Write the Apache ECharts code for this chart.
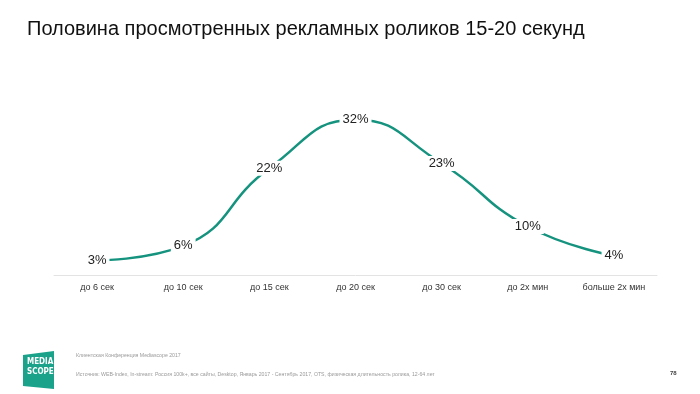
<!DOCTYPE html>
<html>
<head>
<meta charset="utf-8">
<script src="https://cdn.jsdelivr.net/npm/echarts@6/dist/echarts.min.js"></script>
<style>
html,body{margin:0;padding:0;background:#fff;}
#chart{width:700px;height:394px;}
</style>
</head>
<body>
<div id="chart"></div>
<script>
const categories = ['до 6 сек', 'до 10 сек', 'до 15 сек', 'до 20 сек', 'до 30 сек', 'до 2х мин', 'больше 2х мин'];
const values = [3, 6, 22, 32, 23, 10, 4];
const titleText = 'Половина просмотренных рекламных роликов 15-20 секунд';
const footer1 = 'Клиентская Конференция Mediascope 2017';
const footer2 = 'Источник: WEB-Index, In-stream: Россия 100k+, все сайты, Desktop, Январь 2017 - Сентябрь 2017, OTS, физическая длительность ролика, 12-64 лет';
const pageNum = '78';

const chart = echarts.init(document.getElementById('chart'), null, {renderer: 'canvas'});
const font = '"Liberation Sans", Arial, sans-serif';
chart.setOption({
  animation: false,
  backgroundColor: '#fff',
  title: {
    text: titleText,
    left: 22, top: 14,
    textStyle: {fontFamily: font, fontSize: 20, fontWeight: 'normal', color: '#111'}
  },
  grid: {left: 54, right: 43, top: 81, bottom: 119},
  xAxis: {
    type: 'category',
    data: categories,
    axisLine: {lineStyle: {color: '#e3e3e3', width: 1}},
    axisTick: {show: false},
    axisLabel: {fontFamily: font, fontSize: 9, color: '#333', margin: 8}
  },
  yAxis: {
    type: 'value', min: 0, max: 40,
    show: false,
    splitLine: {show: false}
  },
  series: [{
    type: 'line',
    data: values,
    smooth: 0.5,
    symbol: 'circle',
    symbolSize: 1,
    showSymbol: true,
    itemStyle: {color: 'rgba(0,0,0,0)'},
    lineStyle: {color: '#15937f', width: 2.5},
    label: {
      show: true,
      position: 'inside',
      formatter: '{c}%',
      fontFamily: font,
      fontSize: 13,
      color: '#222',
      backgroundColor: '#fff',
      padding: [1, 3]
    },
    z: 3
  }],
  graphic: [
    {type: 'polygon', shape: {points: [[23, 355], [54, 351], [54, 389], [23, 386]]}, style: {fill: '#1ba28b'}},
    {type: 'text', left: 27, top: 357, style: {text: 'MEDIA\nSCOPE', fill: '#fff', font: 'bold 8px "Liberation Sans Narrow", "DejaVu Sans Condensed", sans-serif', lineHeight: 10}},
    {type: 'text', left: 76, top: 353, style: {text: footer1, fill: '#9a9a9a', font: '5.2px ' + font}},
    {type: 'text', left: 76, top: 372, style: {text: footer2, fill: '#9a9a9a', font: '5.2px ' + font}},
    {type: 'text', left: 670, top: 370, style: {text: pageNum, fill: '#444', font: 'bold 6px ' + font}}
  ]
});
</script>
</body>
</html>
